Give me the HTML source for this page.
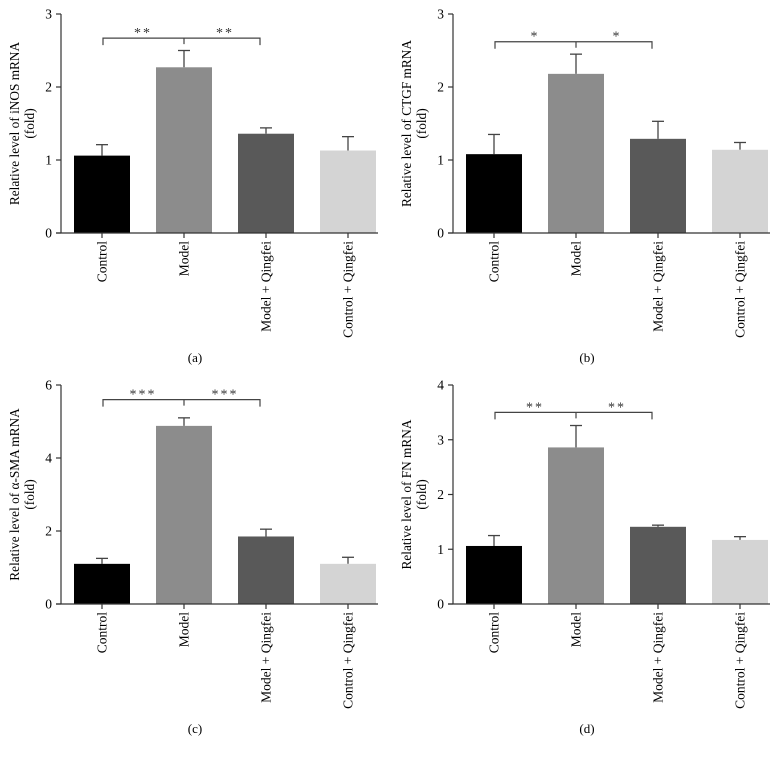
<!DOCTYPE html>
<html><head><meta charset="utf-8"><style>
body{margin:0;background:#fff}
svg{display:block;font-family:"Liberation Serif",serif}
</style></head><body>
<svg id="fig" width="784" height="757"></svg>
<script>
const categories=["Control","Model","Model + Qingfei","Control + Qingfei"];
const titlesA=["Relative level of iNOS mRNA","Relative level of CTGF mRNA","Relative level of α-SMA mRNA","Relative level of FN mRNA"];
const panelLabels=["(a)","(b)","(c)","(d)"];
const yMaxes=[3,3,6,4];
const yTickStep=[1,1,2,1];
const meansA=[1.06,2.27,1.36,1.13];
const errA=[0.15,0.23,0.08,0.19];
const meansB=[1.08,2.18,1.29,1.14];
const errB=[0.27,0.27,0.24,0.10];
const meansC=[1.10,4.88,1.85,1.10];
const errC=[0.15,0.22,0.20,0.18];
const meansD=[1.06,2.86,1.41,1.17];
const errD=[0.19,0.40,0.03,0.06];
const bracketLevel=[2.67,2.62,5.6,3.5];
const stars=["**","*","***","**"];
const colors=["#000","#8c8c8c","#595959","#d4d4d4"];
const means=[meansA,meansB,meansC,meansD];
const errs=[errA,errB,errC,errD];
const NS="http://www.w3.org/2000/svg";
const svg=document.getElementById('fig');
function mk(tag,attrs,parent){const e=document.createElementNS(NS,tag);for(const k in attrs)e.setAttribute(k,attrs[k]);(parent||svg).appendChild(e);return e;}
for(let p=0;p<4;p++){
  const ox=(p%2)*392, oy=Math.floor(p/2)*371;
  const g=mk('g',{transform:`translate(${ox},${oy})`});
  
  
  const y0=233,y1=14,ax=61;
  const ys=v=>y0-(v/yMaxes[p])*(y0-y1);
  const xc=i=>102+i*82;
  for(let i=0;i<4;i++){
    const v=means[p][i],e=errs[p][i];
    const eb=mk('g',{},g);
    
    
    mk('line',{x1:xc(i),x2:xc(i),y1:ys(v),y2:ys(v+e),stroke:'#444','stroke-width':1.3},eb);
    mk('line',{x1:xc(i)-6,x2:xc(i)+6,y1:ys(v+e),y2:ys(v+e),stroke:'#444','stroke-width':1.3},eb);
    const r=mk('rect',{x:xc(i)-28,y:ys(v),width:56,height:y0-ys(v),fill:colors[i]},g);
    
    
  }
  const yaxis=mk('line',{x1:ax,x2:ax,y1:y1,y2:y0,stroke:'#333','stroke-width':1.2},g);
  
  
  const xaxis=mk('line',{x1:ax-5,x2:378,y1:y0,y2:y0,stroke:'#333','stroke-width':1.2},g);
  
  
  for(let v=0;v<=yMaxes[p];v+=yTickStep[p]){
    mk('line',{x1:ax-5,x2:ax,y1:ys(v),y2:ys(v),stroke:'#333','stroke-width':1.2},g);
    const t=mk('text',{x:ax-9,y:ys(v)+4.5,'text-anchor':'end','font-size':13.5},g);
    t.textContent=v;
    
    
  }
  for(let i=0;i<4;i++){
    mk('line',{x1:xc(i),x2:xc(i),y1:y0,y2:y0+5,stroke:'#333','stroke-width':1.2},g);
    const t=mk('text',{transform:`translate(${xc(i)+4.5},${y0+8}) rotate(-90)`,'text-anchor':'end','font-size':13.5},g);
    t.textContent=categories[i];
    
    
  }
  const yt=mk('text',{transform:`translate(19,${(y0+y1)/2}) rotate(-90)`,'text-anchor':'middle','font-size':13.3},g);
  yt.textContent=titlesA[p];
  
  
  const yt2=mk('text',{transform:`translate(34,${(y0+y1)/2}) rotate(-90)`,'text-anchor':'middle','font-size':13.3},g);
  yt2.textContent="(fold)";
  
  
  const by=ys(bracketLevel[p]);
  const br=mk('path',{d:`M${xc(0)+1},${by+7}V${by}H${xc(2)-6}V${by+7}M${xc(1)},${by}V${by+6}`,fill:'none',stroke:'#444','stroke-width':1.2},g);
  
  
  for(const sx of [(xc(0)+xc(1))/2,(xc(1)+xc(2))/2]){
    const s=mk('text',{x:sx,y:by-1,'text-anchor':'middle','font-size':14,'letter-spacing':2,fill:'#333'},g);
    s.textContent=stars[p];
    
    
  }
  const pl=mk('text',{x:195,y:362,'text-anchor':'middle','font-size':13},g);
  pl.textContent=panelLabels[p];
  
  
}
</script>
</body></html>
